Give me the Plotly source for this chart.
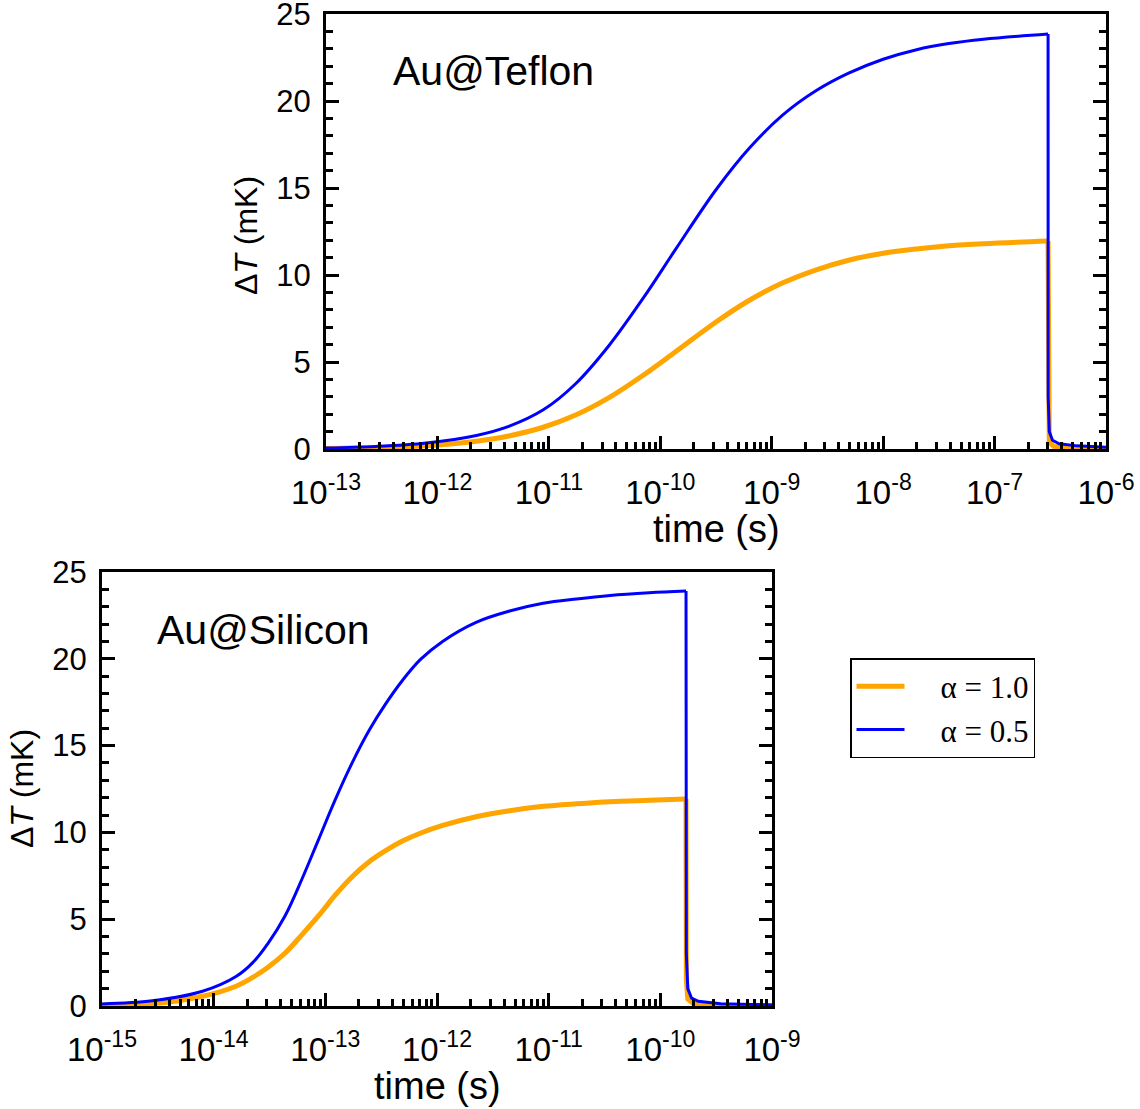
import plotly.graph_objects as go

# ---- data (time given as log10 of seconds) ----
teflon_logt = [-13.0, -12.55, -12.1, -11.65, -11.36, -11.05, -10.76, -10.46, -10.15, -9.86,
               -9.5, -9.2, -8.9, -8.6, -8.31, -8.0, -7.7, -7.41, -7.1, -6.52]
teflon_a05 = [0.06, 0.15, 0.35, 0.78, 1.30, 2.25, 3.75, 5.95, 8.7, 11.5,
              14.9, 17.3, 19.2, 20.6, 21.6, 22.4, 22.95, 23.3, 23.55, 23.85]
teflon_a10 = [0.03, 0.08, 0.19, 0.45, 0.75, 1.25, 1.95, 2.95, 4.25, 5.6,
              7.3, 8.55, 9.55, 10.3, 10.85, 11.25, 11.5, 11.68, 11.8, 11.95]
teflon_tail_logt_a05 = [-6.52, -6.519, -6.509, -6.48, -6.42, -6.26, -6.0]
teflon_tail_a05 = [23.85, 3.0, 1.0, 0.5, 0.3, 0.18, 0.1]
teflon_tail_logt_a10 = [-6.52, -6.519, -6.509, -6.47, -6.30, -6.0]
teflon_tail_a10 = [11.95, 1.5, 0.4, 0.15, 0.06, 0.03]

silicon_logt = [-15.0, -14.55, -14.1, -13.8, -13.65, -13.51, -13.36, -13.21, -13.06, -12.91,
                -12.76, -12.61, -12.46, -12.31, -12.15, -11.95, -11.65, -11.35, -11.05, -10.75,
                -10.45, -10.1, -9.77]
silicon_a05 = [0.12, 0.3, 0.85, 1.7, 2.5, 3.64, 5.2, 7.3, 9.6, 11.9,
               14.0, 15.85, 17.4, 18.75, 19.95, 21.0, 22.1, 22.75, 23.2, 23.45,
               23.65, 23.8, 23.9]
silicon_a10 = [0.04, 0.13, 0.56, 1.14, 1.65, 2.25, 3.05, 4.1, 5.2, 6.4,
               7.45, 8.3, 8.95, 9.5, 9.95, 10.4, 10.9, 11.25, 11.5, 11.65,
               11.77, 11.85, 11.92]
silicon_tail_logt_a05 = [-9.77, -9.767, -9.754, -9.72, -9.66, -9.46, -9.0]
silicon_tail_a05 = [23.9, 3.0, 1.0, 0.45, 0.27, 0.13, 0.06]
silicon_tail_logt_a10 = [-9.77, -9.767, -9.754, -9.70, -9.46, -9.0]
silicon_tail_a10 = [11.92, 1.5, 0.4, 0.12, 0.05, 0.03]

top_decades = list(range(-13, -5))
bot_decades = list(range(-15, -8))
legend_labels = ["\u00a0\u00a0\u00a0\u00a0α = 1.0", "\u00a0\u00a0\u00a0\u00a0α = 0.5"]
panel_labels = ["Au@Teflon", "Au@Silicon"]
x_title = "time (s)"
y_title = "Δ<i>T</i> (mK)"

ORANGE = "#FFA500"
BLUE = "#0000FF"
W, H = 1140, 1109
SANS = "Liberation Sans, Arial, Helvetica, sans-serif"


def sec(logs):
    return [10.0 ** v for v in logs]


fig = go.Figure()


def add_panel(lt, a10, a05, lt10, ta10, lt05, ta05, xa, ya, show):
    t = sec(lt)
    fig.add_trace(go.Scatter(x=t, y=a10, mode="lines",
                             line=dict(color=ORANGE, width=5, shape="spline", smoothing=1.0),
                             name=legend_labels[0], legendgroup="a10",
                             xaxis=xa, yaxis=ya, showlegend=show))
    fig.add_trace(go.Scatter(x=sec(lt10), y=ta10, mode="lines",
                             line=dict(color=ORANGE, width=5), legendgroup="a10",
                             xaxis=xa, yaxis=ya, showlegend=False))
    fig.add_trace(go.Scatter(x=t, y=a05, mode="lines",
                             line=dict(color=BLUE, width=3, shape="spline", smoothing=1.0),
                             name=legend_labels[1], legendgroup="a05",
                             xaxis=xa, yaxis=ya, showlegend=show))
    fig.add_trace(go.Scatter(x=sec(lt05), y=ta05, mode="lines",
                             line=dict(color=BLUE, width=3), legendgroup="a05",
                             xaxis=xa, yaxis=ya, showlegend=False))


add_panel(teflon_logt, teflon_a10, teflon_a05, teflon_tail_logt_a10, teflon_tail_a10,
          teflon_tail_logt_a05, teflon_tail_a05, "x", "y", True)
add_panel(silicon_logt, silicon_a10, silicon_a05, silicon_tail_logt_a10, silicon_tail_a10,
          silicon_tail_logt_a05, silicon_tail_a05, "x2", "y2", False)


def xaxis(decades, domain, anchor):
    vals = [10.0 ** d for d in decades]
    minor = [k * 10.0 ** d for d in decades[:-1] for k in range(2, 10)]
    return dict(type="log", domain=domain, anchor=anchor, automargin=False,
                range=[decades[0], decades[-1]],
                tickmode="array", tickvals=vals,
                ticktext=["10<sup>%d</sup>" % d for d in decades],
                ticks="inside", ticklen=13, tickwidth=2.5, tickcolor="black",
                ticklabelstandoff=12, ticklabeloverflow="allow",
                minor=dict(tickmode="array", tickvals=minor, ticks="inside",
                           ticklen=7, tickwidth=2.5, tickcolor="black", showgrid=False),
                showline=True, linecolor="black", linewidth=3, mirror=True,
                showgrid=False, zeroline=False,
                tickfont=dict(family=SANS, size=33, color="black"))


def yaxis(domain, anchor):
    return dict(domain=domain, anchor=anchor, range=[0, 25], automargin=False,
                tickmode="linear", tick0=0, dtick=5,
                ticks="inside", ticklen=13, tickwidth=2.5, tickcolor="black",
                ticklabelstandoff=6, ticklabeloverflow="allow",
                minor=dict(dtick=1, ticks="inside", ticklen=7, tickwidth=2.5,
                           tickcolor="black", showgrid=False),
                showline=True, linecolor="black", linewidth=3, mirror="allticks",
                showgrid=False, zeroline=False,
                tickfont=dict(family=SANS, size=31, color="black"))


fig.update_layout(
    width=W, height=H,
    margin=dict(l=0, r=0, t=0, b=0),
    paper_bgcolor="white", plot_bgcolor="white",
    xaxis=xaxis(top_decades, [326 / W, 1106 / W], "y"),
    yaxis=yaxis([1 - 449 / H, 1 - 14 / H], "x"),
    xaxis2=xaxis(bot_decades, [102 / W, 772 / W], "y2"),
    yaxis2=yaxis([1 - 1006 / H, 1 - 572 / H], "x2"),
    legend=dict(x=850 / W, y=1 - 658 / H, xanchor="left", yanchor="top",
                bordercolor="black", borderwidth=1.5, bgcolor="white",
                font=dict(family="Liberation Serif, Times New Roman, serif", size=31, color="black"),
                itemwidth=48, tracegroupgap=0),
    showlegend=True,
)


def ann(text, x, y, size, angle=0, xanchor="center"):
    fig.add_annotation(text=text, x=x / W, y=1 - y / H, xref="paper", yref="paper",
                       xanchor=xanchor, yanchor="middle", showarrow=False, textangle=angle,
                       font=dict(family=SANS, size=size, color="black"))


ann(panel_labels[0], 391, 71, 41, xanchor="left")
ann(panel_labels[1], 155, 630, 41, xanchor="left")
ann(x_title, 716, 529, 38)
ann(x_title, 437, 1086, 38)
ann(y_title, 246, 236, 32, angle=-90)
ann(y_title, 22, 789, 32, angle=-90)

fig.write_html("out.html")
